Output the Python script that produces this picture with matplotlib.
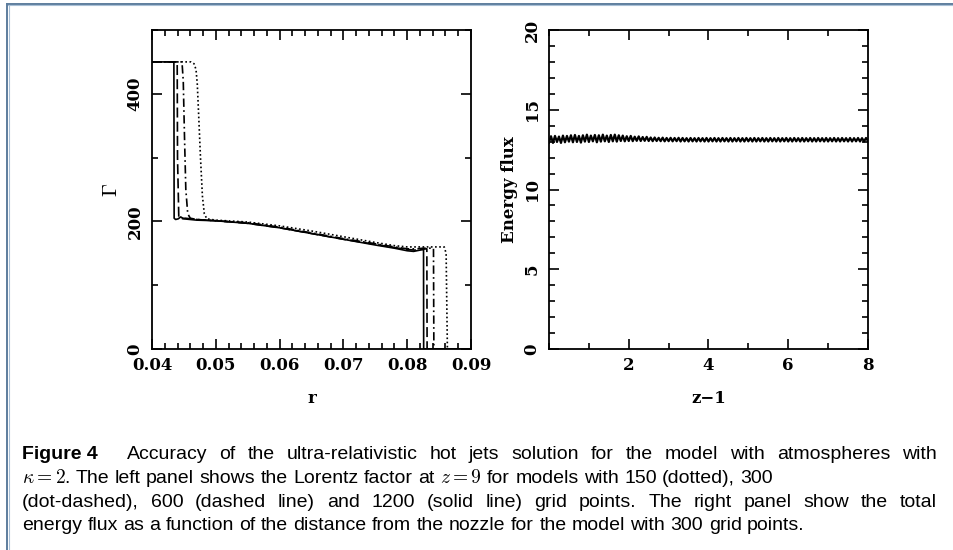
import re
import matplotlib
matplotlib.use("Agg")
import matplotlib.pyplot as plt
import numpy as np
from matplotlib.lines import Line2D
from matplotlib.ticker import MultipleLocator, FixedLocator, FormatStrFormatter

plt.rcParams["mathtext.fontset"] = "cm"

# ---- left panel: Lorentz factor at z = 9 ----
r_1200 = [0.0400, 0.04343, 0.04347, 0.0437, 0.0441, 0.0445, 0.0450, 0.0470, 0.0500,
          0.0550, 0.0600, 0.0650, 0.0700, 0.0750, 0.0780, 0.0800, 0.0810, 0.0820,
          0.0824, 0.08256, 0.08258, 0.0900]
g_1200 = [450, 450, 205, 203, 204, 207, 204, 202, 201,
          197, 190, 181, 172, 163, 158, 154, 153, 155,
          156, 156, 0, 0]

r_600 = [0.0400, 0.04395, 0.0440, 0.0442, 0.0446, 0.0452, 0.0470, 0.0500, 0.0550,
         0.0600, 0.0650, 0.0700, 0.0750, 0.0780, 0.0800, 0.0812, 0.0822, 0.0830,
         0.08308, 0.08312, 0.0900]
g_600 = [450, 450, 300, 206, 204, 205, 203, 201, 197,
         190, 181, 172, 164, 159, 156, 155, 156, 157,
         157, 0, 0]

r_300 = [0.0400, 0.0447, 0.0449, 0.0451, 0.0453, 0.0456, 0.0460, 0.0470, 0.0500,
         0.0550, 0.0600, 0.0650, 0.0700, 0.0750, 0.0780, 0.0800, 0.0815, 0.0825,
         0.0840, 0.08412, 0.08418, 0.0900]
g_300 = [450, 450, 420, 330, 250, 212, 205, 203, 201,
         198, 191, 182, 173, 165, 160, 157, 157, 158,
         158, 158, 0, 0]

r_150 = [0.0400, 0.0461, 0.0466, 0.0469, 0.0471, 0.0473, 0.0476, 0.0479, 0.0482,
         0.0486, 0.0500, 0.0550, 0.0600, 0.0650, 0.0700, 0.0750, 0.0780, 0.0800,
         0.0812, 0.0830, 0.0858, 0.0861, 0.0863, 0.0900]
g_150 = [450, 450, 447, 438, 415, 370, 300, 240, 212,
         204, 202, 199, 193, 185, 176, 167, 162, 160,
         160, 160, 160, 150, 0, 0]

# ---- right panel: energy flux, 300 grid points, z-1 from 0 to 8 ----
flux = [
    12.94, 13.34, 12.92, 13.36, 12.98, 13.32, 12.92, 13.38, 12.96, 13.36,
    13.00, 13.40, 12.96, 13.42, 12.98, 13.36, 12.94, 13.40, 13.00, 13.44,
    12.98, 13.38, 13.02, 13.42, 12.96, 13.40, 13.00, 13.44, 13.02, 13.38,
    12.98, 13.42, 13.02, 13.44, 13.00, 13.40, 13.04, 13.38, 13.02, 13.34,
    13.04, 13.36, 13.03, 13.31, 13.05, 13.33, 13.04, 13.29, 13.05, 13.30,
    13.04, 13.26, 13.03, 13.26, 13.04, 13.24, 13.03, 13.25, 13.02, 13.23,
    13.03, 13.24, 13.02, 13.23, 13.03, 13.24, 13.01, 13.23, 13.02, 13.22,
    13.01, 13.23, 13.02, 13.22, 13.01, 13.23, 13.02, 13.22, 13.01, 13.23,
    13.01, 13.22, 13.02, 13.23, 13.01, 13.22, 13.01, 13.23, 13.02, 13.22,
    13.01, 13.23, 13.01, 13.22, 13.02, 13.23, 13.01, 13.22, 13.01, 13.23,
    13.02, 13.22, 13.01, 13.23, 13.01, 13.22, 13.02, 13.23, 13.01, 13.22,
    13.01, 13.23, 13.02, 13.22, 13.01, 13.23, 13.01, 13.22, 13.02, 13.23,
    13.01, 13.22, 13.01, 13.23, 13.02, 13.22, 13.01, 13.23, 13.01, 13.22,
    13.02, 13.23, 13.01, 13.22, 13.01, 13.23, 13.02, 13.22, 13.01, 13.23,
    13.01, 13.22, 13.02, 13.23, 13.01, 13.22, 13.01, 13.23, 13.02, 13.22,
    13.01, 13.23, 13.01, 13.22, 13.02, 13.23, 13.01, 13.22, 13.01, 13.23,
    13.04,
]
z_flux = np.linspace(0, 8, len(flux))

caption_label = "Figure 4"
caption_lines = [
    r"Accuracy of the ultra-relativistic hot jets solution for the model with atmospheres with",
    r"$\kappa = 2$. The left panel shows the Lorentz factor at $z = 9$ for models with 150 (dotted), 300",
    r"(dot-dashed), 600 (dashed line) and 1200 (solid line) grid points. The right panel show the total",
    r"energy flux as a function of the distance from the nozzle for the model with 300 grid points.",
]
# lines that reach the right margin in the original
caption_full = [True, False, True, False]

W, H = 954, 550
fig = plt.figure(figsize=(W / 100, H / 100), dpi=100)

axis_font = dict(family="DejaVu Serif", fontsize=12, fontweight="bold")
line_w = 1.2


def style_axes(ax):
    for sp in ax.spines.values():
        sp.set_linewidth(1.3)
    ax.tick_params(which="both", direction="in", top=True, right=True, width=1.2)
    ax.tick_params(which="major", length=7, pad=6)
    ax.tick_params(which="minor", length=4)
    for lab in ax.get_xticklabels() + ax.get_yticklabels():
        lab.set_family("DejaVu Serif")
        lab.set_fontsize(12)
        lab.set_fontweight("bold")
    for lab in ax.get_yticklabels():
        lab.set_rotation(90)
        lab.set_va("center")


# left panel
ax1 = fig.add_axes([152 / W, 1 - 349 / H, 319 / W, 319 / H])
ax1.plot(r_150, g_150, color="black", lw=line_w, linestyle=(0, (1, 1.5)))
ax1.plot(r_300, g_300, color="black", lw=line_w, linestyle=(0, (5, 2, 1, 2)))
ax1.plot(r_600, g_600, color="black", lw=line_w, linestyle=(0, (6, 2.5)))
ax1.plot(r_1200, g_1200, color="black", lw=line_w, linestyle="solid")
ax1.set_xlim(0.04, 0.09)
ax1.set_ylim(0, 500)
ax1.xaxis.set_major_locator(FixedLocator([0.04, 0.05, 0.06, 0.07, 0.08, 0.09]))
ax1.xaxis.set_minor_locator(MultipleLocator(0.002))
ax1.xaxis.set_major_formatter(FormatStrFormatter("%.2f"))
ax1.yaxis.set_major_locator(FixedLocator([0, 200, 400]))
ax1.yaxis.set_minor_locator(MultipleLocator(100))
ax1.set_xlabel("r", labelpad=11, **axis_font)
ax1.set_ylabel(r"$\Gamma$", labelpad=4, fontsize=15)
style_axes(ax1)

# right panel
ax2 = fig.add_axes([549 / W, 1 - 349 / H, 319 / W, 319 / H])
ax2.plot(z_flux, flux, color="black", lw=1.6)
ax2.set_xlim(0, 8)
ax2.set_ylim(0, 20)
ax2.xaxis.set_major_locator(FixedLocator([2, 4, 6, 8]))
ax2.xaxis.set_minor_locator(MultipleLocator(1))
ax2.yaxis.set_major_locator(MultipleLocator(5))
ax2.yaxis.set_minor_locator(MultipleLocator(1))
ax2.set_xlabel("z\u22121", labelpad=11, **axis_font)
ax2.set_ylabel("Energy flux", labelpad=4, **axis_font)
style_axes(ax2)

# caption
cap_font = dict(family="Liberation Sans", fontsize=14, va="baseline")
cap_base = [459, 483, 507, 530]
left_px, right_px, first_px = 22, 937, 127
renderer = fig.canvas.get_renderer()
fig.text(left_px / W, 1 - cap_base[0] / H, caption_label, fontweight="bold", **cap_font)

probe = fig.text(0, 0, "a a", **cap_font)
space_w = probe.get_window_extent(renderer).width
probe.set_text("aa")
space_w -= probe.get_window_extent(renderer).width
probe.remove()

for i, (line, base) in enumerate(zip(caption_lines, cap_base)):
    words = re.findall(r"\$[^$]*\$\S*|\S+", line)
    start = first_px if i == 0 else left_px
    texts = [fig.text(0, 1 - base / H, w, **cap_font) for w in words]
    widths = [t.get_window_extent(renderer).width for t in texts]
    if caption_full[i]:
        gap = (right_px - start - sum(widths)) / (len(words) - 1)
    else:
        gap = space_w
    x = start
    for t, w in zip(texts, widths):
        t.set_x(x / W)
        x += w + gap

# page frame (top and left rules)
fig.add_artist(Line2D([7.5 / W, 1], [1 - 3.5 / H, 1 - 3.5 / H],
                      transform=fig.transFigure, color="#5d7d9d", lw=1.4))
fig.add_artist(Line2D([7.5 / W, 1], [1 - 5 / H, 1 - 5 / H],
                      transform=fig.transFigure, color="#a9c0d6", lw=0.8))
fig.add_artist(Line2D([7.5 / W, 7.5 / W], [0, 1 - 3.5 / H],
                      transform=fig.transFigure, color="#5d7d9d", lw=1.4))
fig.add_artist(Line2D([9 / W, 9 / W], [0, 1 - 5 / H],
                      transform=fig.transFigure, color="#a9c0d6", lw=0.8))

fig.savefig("out.png", dpi=100)
